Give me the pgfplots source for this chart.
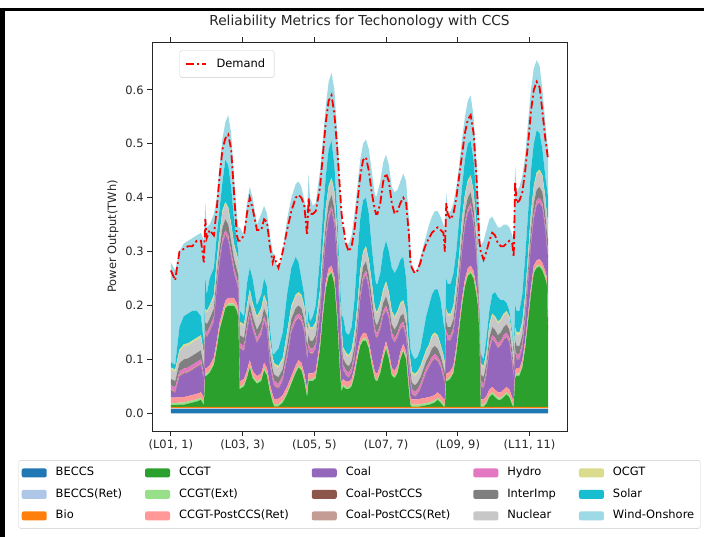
\documentclass[border=0pt]{standalone}
\usepackage{fontspec}
\setmainfont{DejaVu Sans}
\usepackage{pgfplots}
\usepackage{pgfplotstable}
\pgfplotsset{compat=1.18}
\definecolor{cBE}{HTML}{1F77B4}
\definecolor{cBR}{HTML}{AEC7E8}
\definecolor{cBio}{HTML}{FF7F0E}
\definecolor{cCC}{HTML}{2CA02C}
\definecolor{cCE}{HTML}{98DF8A}
\definecolor{cCP}{HTML}{FF9896}
\definecolor{cCoal}{HTML}{9467BD}
\definecolor{cCoP}{HTML}{8C564B}
\definecolor{cCoR}{HTML}{C49C94}
\definecolor{cHy}{HTML}{E377C2}
\definecolor{cII}{HTML}{7F7F7F}
\definecolor{cNu}{HTML}{C7C7C7}
\definecolor{cOC}{HTML}{DBDB8D}
\definecolor{cSo}{HTML}{17BECF}
\definecolor{cWi}{HTML}{9EDAE5}
\pgfplotstableread{
x BE BR Bio CC CE CP Coal CoP CoR Hy II Nu OC So Wi De
0 0.008 0.001 0.003 0.003 0.004 0.010 0.013 0.001 0.002 0.007 0.012 0.017 0.004 0.010 0.185 0.265
3 0.008 0.001 0.003 0.003 0.004 0.010 0.009 0.001 0.002 0.007 0.012 0.017 0.004 0.009 0.175 0.247
6 0.008 0.001 0.003 0.004 0.004 0.010 0.038 0.001 0.002 0.007 0.015 0.021 0.004 0.042 0.140 0.300
9 0.008 0.001 0.003 0.004 0.004 0.010 0.043 0.001 0.002 0.007 0.017 0.024 0.004 0.052 0.135 0.305
12 0.008 0.001 0.003 0.006 0.004 0.010 0.043 0.001 0.002 0.007 0.017 0.024 0.004 0.055 0.135 0.310
15 0.008 0.001 0.003 0.008 0.004 0.010 0.046 0.001 0.002 0.007 0.017 0.024 0.004 0.055 0.135 0.310
18 0.008 0.001 0.003 0.010 0.004 0.010 0.049 0.001 0.002 0.007 0.017 0.024 0.004 0.050 0.140 0.320
21 0.008 0.001 0.003 0.013 0.004 0.010 0.051 0.001 0.002 0.007 0.017 0.024 0.004 0.035 0.155 0.320
23 0.008 0.001 0.003 0.003 0.004 0.010 0.031 0.001 0.002 0.007 0.015 0.021 0.004 0.020 0.190 0.280
24 0.008 0.001 0.003 0.058 0.004 0.010 0.061 0.001 0.002 0.007 0.015 0.021 0.004 0.055 0.140 0.360
25 0.008 0.001 0.003 0.058 0.004 0.010 0.056 0.001 0.002 0.007 0.015 0.021 0.004 0.030 0.125 0.325
27 0.008 0.001 0.003 0.063 0.004 0.010 0.061 0.001 0.002 0.007 0.015 0.021 0.004 0.050 0.100 0.340
30 0.008 0.001 0.003 0.078 0.004 0.010 0.066 0.001 0.002 0.007 0.015 0.021 0.004 0.050 0.100 0.330
32 0.008 0.001 0.003 0.108 0.004 0.010 0.096 0.001 0.002 0.007 0.017 0.024 0.004 0.045 0.070 0.380
34 0.008 0.001 0.003 0.143 0.004 0.010 0.111 0.001 0.002 0.007 0.017 0.024 0.004 0.045 0.080 0.440
36 0.008 0.001 0.003 0.163 0.004 0.010 0.126 0.001 0.002 0.007 0.020 0.028 0.004 0.053 0.080 0.490
38 0.008 0.001 0.003 0.183 0.004 0.010 0.121 0.001 0.002 0.007 0.020 0.028 0.004 0.078 0.070 0.510
40 0.008 0.001 0.003 0.188 0.004 0.010 0.106 0.001 0.002 0.007 0.020 0.028 0.004 0.078 0.093 0.517
42 0.008 0.001 0.003 0.188 0.004 0.010 0.076 0.001 0.002 0.007 0.020 0.028 0.004 0.068 0.100 0.490
44 0.008 0.001 0.003 0.188 0.004 0.010 0.046 0.001 0.002 0.007 0.017 0.024 0.004 0.045 0.080 0.410
46 0.008 0.001 0.003 0.178 0.004 0.010 0.036 0.001 0.002 0.007 0.017 0.024 0.004 0.025 0.050 0.330
47 0.008 0.001 0.003 0.168 0.004 0.010 0.036 0.001 0.002 0.007 0.017 0.024 0.004 0.015 0.045 0.320
48 0.008 0.001 0.003 0.033 0.004 0.010 0.061 0.001 0.002 0.007 0.015 0.021 0.004 0.020 0.155 0.320
51 0.008 0.001 0.003 0.038 0.004 0.010 0.051 0.001 0.002 0.007 0.015 0.021 0.004 0.015 0.150 0.330
53 0.008 0.001 0.003 0.053 0.004 0.010 0.071 0.001 0.002 0.007 0.015 0.021 0.004 0.040 0.150 0.370
55 0.008 0.001 0.003 0.073 0.004 0.010 0.081 0.001 0.002 0.007 0.015 0.021 0.004 0.040 0.150 0.400
57 0.008 0.001 0.003 0.053 0.004 0.010 0.076 0.001 0.002 0.007 0.015 0.021 0.004 0.045 0.150 0.380
60 0.008 0.001 0.003 0.043 0.004 0.010 0.061 0.001 0.002 0.007 0.015 0.021 0.004 0.020 0.150 0.340
63 0.008 0.001 0.003 0.048 0.004 0.010 0.071 0.001 0.002 0.007 0.015 0.021 0.004 0.025 0.150 0.340
65 0.008 0.001 0.003 0.068 0.004 0.010 0.076 0.001 0.002 0.007 0.015 0.021 0.004 0.030 0.135 0.360
67 0.008 0.001 0.003 0.058 0.004 0.010 0.071 0.001 0.002 0.007 0.015 0.021 0.004 0.030 0.135 0.355
69 0.008 0.001 0.003 0.028 0.004 0.010 0.036 0.001 0.002 0.007 0.015 0.021 0.004 0.020 0.170 0.310
71 0.008 0.001 0.003 0.008 0.004 0.010 0.026 0.001 0.002 0.007 0.012 0.017 0.004 0.007 0.190 0.280
72 0.008 0.001 0.003 0.001 0.004 0.010 0.023 0.001 0.002 0.007 0.012 0.017 0.004 0.017 0.180 0.290
75 0.008 0.001 0.003 0.001 0.004 0.010 0.018 0.001 0.002 0.007 0.012 0.017 0.004 0.032 0.145 0.270
78 0.008 0.001 0.003 0.008 0.004 0.010 0.026 0.001 0.002 0.007 0.012 0.017 0.004 0.047 0.150 0.300
81 0.008 0.001 0.003 0.023 0.004 0.010 0.051 0.001 0.002 0.007 0.015 0.021 0.004 0.070 0.140 0.340
84 0.008 0.001 0.003 0.043 0.004 0.010 0.081 0.001 0.002 0.007 0.015 0.021 0.004 0.070 0.130 0.375
87 0.008 0.001 0.003 0.063 0.004 0.010 0.081 0.001 0.002 0.007 0.015 0.021 0.004 0.070 0.135 0.400
89 0.008 0.001 0.003 0.073 0.004 0.010 0.076 0.001 0.002 0.007 0.015 0.021 0.004 0.055 0.150 0.405
91 0.008 0.001 0.003 0.068 0.004 0.010 0.076 0.001 0.002 0.007 0.015 0.021 0.004 0.030 0.170 0.400
93 0.008 0.001 0.003 0.048 0.004 0.010 0.076 0.001 0.002 0.007 0.015 0.021 0.004 0.020 0.175 0.385
95 0.008 0.001 0.003 0.018 0.004 0.010 0.056 0.001 0.002 0.007 0.015 0.021 0.004 0.010 0.215 0.330
96 0.008 0.001 0.003 0.048 0.004 0.010 0.046 0.001 0.002 0.007 0.015 0.021 0.004 0.020 0.255 0.400
97 0.008 0.001 0.003 0.048 0.004 0.010 0.036 0.001 0.002 0.007 0.015 0.021 0.004 0.010 0.230 0.370
99 0.008 0.001 0.003 0.048 0.004 0.010 0.036 0.001 0.002 0.007 0.015 0.021 0.004 0.020 0.205 0.370
101 0.008 0.001 0.003 0.053 0.004 0.010 0.041 0.001 0.002 0.007 0.015 0.021 0.004 0.030 0.190 0.375
104 0.008 0.001 0.003 0.108 0.004 0.010 0.046 0.001 0.002 0.007 0.015 0.021 0.004 0.060 0.160 0.420
106 0.008 0.001 0.003 0.168 0.004 0.010 0.066 0.001 0.002 0.007 0.017 0.024 0.004 0.055 0.140 0.480
108 0.008 0.001 0.003 0.218 0.004 0.010 0.076 0.001 0.002 0.007 0.020 0.028 0.004 0.058 0.130 0.540
110 0.008 0.001 0.003 0.243 0.004 0.010 0.091 0.001 0.002 0.007 0.020 0.028 0.004 0.068 0.125 0.580
112 0.008 0.001 0.003 0.248 0.004 0.010 0.101 0.001 0.002 0.007 0.020 0.028 0.004 0.068 0.127 0.590
114 0.008 0.001 0.003 0.228 0.004 0.010 0.096 0.001 0.002 0.007 0.020 0.028 0.004 0.048 0.140 0.555
116 0.008 0.001 0.003 0.158 0.004 0.010 0.096 0.001 0.002 0.007 0.017 0.024 0.004 0.035 0.150 0.490
118 0.008 0.001 0.003 0.058 0.004 0.010 0.076 0.001 0.002 0.007 0.015 0.021 0.004 0.030 0.180 0.410
119 0.008 0.001 0.003 0.028 0.004 0.010 0.056 0.001 0.002 0.007 0.015 0.021 0.004 0.020 0.190 0.370
120 0.008 0.001 0.003 0.038 0.004 0.010 0.016 0.001 0.002 0.007 0.012 0.017 0.004 0.057 0.160 0.350
122 0.008 0.001 0.003 0.033 0.004 0.010 0.011 0.001 0.002 0.007 0.012 0.017 0.004 0.037 0.160 0.315
124 0.008 0.001 0.003 0.033 0.004 0.010 0.006 0.001 0.002 0.007 0.012 0.017 0.004 0.037 0.170 0.300
126 0.008 0.001 0.003 0.038 0.004 0.010 0.011 0.001 0.002 0.007 0.012 0.017 0.004 0.042 0.170 0.310
128 0.008 0.001 0.003 0.058 0.004 0.010 0.016 0.001 0.002 0.007 0.015 0.021 0.004 0.060 0.160 0.340
130 0.008 0.001 0.003 0.088 0.004 0.010 0.036 0.001 0.002 0.007 0.015 0.021 0.004 0.090 0.130 0.390
132 0.008 0.001 0.003 0.113 0.004 0.010 0.071 0.001 0.002 0.007 0.017 0.024 0.004 0.095 0.110 0.440
134 0.008 0.001 0.003 0.123 0.004 0.010 0.096 0.001 0.002 0.007 0.017 0.024 0.004 0.095 0.105 0.470
136 0.008 0.001 0.003 0.123 0.004 0.010 0.106 0.001 0.002 0.007 0.017 0.024 0.004 0.090 0.108 0.475
138 0.008 0.001 0.003 0.108 0.004 0.010 0.096 0.001 0.002 0.007 0.017 0.024 0.004 0.085 0.120 0.450
140 0.008 0.001 0.003 0.078 0.004 0.010 0.086 0.001 0.002 0.007 0.017 0.024 0.004 0.065 0.140 0.410
142 0.008 0.001 0.003 0.053 0.004 0.010 0.071 0.001 0.002 0.007 0.015 0.021 0.004 0.060 0.150 0.380
143 0.008 0.001 0.003 0.048 0.004 0.010 0.066 0.001 0.002 0.007 0.015 0.021 0.004 0.050 0.160 0.370
144 0.008 0.001 0.003 0.048 0.004 0.010 0.066 0.001 0.002 0.007 0.015 0.021 0.004 0.050 0.170 0.370
146 0.008 0.001 0.003 0.063 0.004 0.010 0.066 0.001 0.002 0.007 0.015 0.021 0.004 0.055 0.170 0.390
148 0.008 0.001 0.003 0.088 0.004 0.010 0.066 0.001 0.002 0.007 0.015 0.021 0.004 0.070 0.165 0.430
150 0.008 0.001 0.003 0.108 0.004 0.010 0.056 0.001 0.002 0.007 0.017 0.024 0.004 0.075 0.160 0.445
152 0.008 0.001 0.003 0.088 0.004 0.010 0.061 0.001 0.002 0.007 0.015 0.021 0.004 0.075 0.160 0.430
154 0.008 0.001 0.003 0.058 0.004 0.010 0.056 0.001 0.002 0.007 0.015 0.021 0.004 0.080 0.150 0.390
156 0.008 0.001 0.003 0.053 0.004 0.010 0.051 0.001 0.002 0.007 0.015 0.021 0.004 0.080 0.150 0.370
158 0.008 0.001 0.003 0.063 0.004 0.010 0.051 0.001 0.002 0.007 0.015 0.021 0.004 0.080 0.145 0.375
160 0.008 0.001 0.003 0.088 0.004 0.010 0.041 0.001 0.002 0.007 0.015 0.021 0.004 0.080 0.145 0.390
162 0.008 0.001 0.003 0.103 0.004 0.010 0.031 0.001 0.002 0.007 0.015 0.021 0.004 0.080 0.155 0.400
164 0.008 0.001 0.003 0.088 0.004 0.010 0.026 0.001 0.002 0.007 0.015 0.021 0.004 0.060 0.180 0.390
166 0.008 0.001 0.003 0.028 0.004 0.010 0.026 0.001 0.002 0.007 0.012 0.017 0.004 0.037 0.200 0.330
167 0.008 0.001 0.003 0.003 0.004 0.010 0.026 0.001 0.002 0.007 0.012 0.017 0.004 0.022 0.190 0.280
168 0.008 0.001 0.003 0.000 0.004 0.010 0.009 0.001 0.002 0.007 0.012 0.017 0.004 0.032 0.160 0.270
170 0.008 0.001 0.003 0.000 0.004 0.010 0.004 0.001 0.002 0.007 0.012 0.017 0.004 0.027 0.160 0.260
172 0.008 0.001 0.003 0.000 0.004 0.010 0.009 0.001 0.002 0.007 0.012 0.017 0.004 0.027 0.165 0.265
174 0.008 0.001 0.003 0.001 0.004 0.010 0.018 0.001 0.002 0.007 0.012 0.017 0.004 0.032 0.170 0.280
176 0.008 0.001 0.003 0.002 0.004 0.010 0.032 0.001 0.002 0.007 0.012 0.017 0.004 0.047 0.160 0.300
178 0.008 0.001 0.003 0.003 0.004 0.010 0.046 0.001 0.002 0.007 0.012 0.017 0.004 0.062 0.150 0.315
180 0.008 0.001 0.003 0.004 0.004 0.010 0.055 0.001 0.002 0.007 0.012 0.017 0.004 0.072 0.150 0.325
182 0.008 0.001 0.003 0.006 0.004 0.010 0.063 0.001 0.002 0.007 0.015 0.021 0.004 0.075 0.145 0.335
184 0.008 0.001 0.003 0.008 0.004 0.010 0.066 0.001 0.002 0.007 0.015 0.021 0.004 0.080 0.145 0.340
186 0.008 0.001 0.003 0.013 0.004 0.010 0.056 0.001 0.002 0.007 0.015 0.021 0.004 0.085 0.145 0.345
188 0.008 0.001 0.003 0.008 0.004 0.010 0.051 0.001 0.002 0.007 0.012 0.017 0.004 0.082 0.155 0.340
190 0.008 0.001 0.003 0.001 0.004 0.010 0.038 0.001 0.002 0.007 0.012 0.017 0.004 0.062 0.180 0.335
191 0.008 0.001 0.003 0.000 0.004 0.010 0.024 0.001 0.002 0.007 0.012 0.017 0.004 0.057 0.190 0.300
192 0.008 0.001 0.003 0.048 0.004 0.010 0.071 0.001 0.002 0.007 0.015 0.021 0.004 0.055 0.160 0.390
193 0.008 0.001 0.003 0.048 0.004 0.010 0.061 0.001 0.002 0.007 0.015 0.021 0.004 0.055 0.130 0.370
195 0.008 0.001 0.003 0.053 0.004 0.010 0.056 0.001 0.002 0.007 0.015 0.021 0.004 0.055 0.135 0.360
197 0.008 0.001 0.003 0.063 0.004 0.010 0.061 0.001 0.002 0.007 0.015 0.021 0.004 0.060 0.130 0.370
199 0.008 0.001 0.003 0.098 0.004 0.010 0.066 0.001 0.002 0.007 0.017 0.024 0.004 0.055 0.120 0.400
201 0.008 0.001 0.003 0.143 0.004 0.010 0.071 0.001 0.002 0.007 0.017 0.024 0.004 0.065 0.100 0.440
203 0.008 0.001 0.003 0.188 0.004 0.010 0.086 0.001 0.002 0.007 0.020 0.028 0.004 0.058 0.090 0.480
205 0.008 0.001 0.003 0.223 0.004 0.010 0.096 0.001 0.002 0.007 0.020 0.028 0.004 0.063 0.080 0.520
207 0.008 0.001 0.003 0.243 0.004 0.010 0.101 0.001 0.002 0.007 0.020 0.028 0.004 0.068 0.080 0.545
209 0.008 0.001 0.003 0.248 0.004 0.010 0.106 0.001 0.002 0.007 0.020 0.028 0.004 0.063 0.085 0.553
211 0.008 0.001 0.003 0.238 0.004 0.010 0.086 0.001 0.002 0.007 0.020 0.028 0.004 0.058 0.080 0.520
213 0.008 0.001 0.003 0.208 0.004 0.010 0.056 0.001 0.002 0.007 0.020 0.028 0.004 0.048 0.070 0.440
214 0.008 0.001 0.003 0.188 0.004 0.010 0.016 0.001 0.002 0.007 0.017 0.024 0.004 0.015 0.120 0.380
215 0.008 0.001 0.003 0.138 0.004 0.010 0.006 0.001 0.002 0.007 0.015 0.021 0.004 0.010 0.140 0.320
216 0.008 0.001 0.003 0.000 0.004 0.010 0.024 0.001 0.002 0.007 0.012 0.017 0.004 0.017 0.200 0.300
218 0.008 0.001 0.003 0.000 0.004 0.010 0.019 0.001 0.002 0.007 0.012 0.017 0.004 0.012 0.220 0.285
220 0.008 0.001 0.003 0.006 0.004 0.010 0.038 0.001 0.002 0.007 0.012 0.017 0.004 0.027 0.200 0.300
222 0.008 0.001 0.003 0.018 0.004 0.010 0.071 0.001 0.002 0.007 0.015 0.021 0.004 0.025 0.170 0.320
224 0.008 0.001 0.003 0.023 0.004 0.010 0.086 0.001 0.002 0.007 0.015 0.021 0.004 0.035 0.145 0.335
226 0.008 0.001 0.003 0.018 0.004 0.010 0.086 0.001 0.002 0.007 0.015 0.021 0.004 0.045 0.130 0.330
228 0.008 0.001 0.003 0.013 0.004 0.010 0.081 0.001 0.002 0.007 0.015 0.021 0.004 0.045 0.130 0.315
230 0.008 0.001 0.003 0.013 0.004 0.010 0.086 0.001 0.002 0.007 0.015 0.021 0.004 0.035 0.135 0.310
232 0.008 0.001 0.003 0.018 0.004 0.010 0.091 0.001 0.002 0.007 0.015 0.021 0.004 0.025 0.140 0.310
234 0.008 0.001 0.003 0.023 0.004 0.010 0.091 0.001 0.002 0.007 0.015 0.021 0.004 0.015 0.145 0.315
236 0.008 0.001 0.003 0.018 0.004 0.010 0.086 0.001 0.002 0.007 0.015 0.021 0.004 0.010 0.155 0.320
238 0.008 0.001 0.003 0.003 0.004 0.010 0.061 0.001 0.002 0.007 0.015 0.021 0.004 0.010 0.180 0.315
239 0.008 0.001 0.003 0.000 0.004 0.010 0.034 0.001 0.002 0.007 0.012 0.017 0.004 0.017 0.200 0.290
240 0.008 0.001 0.003 0.053 0.004 0.010 0.031 0.001 0.002 0.007 0.015 0.021 0.004 0.040 0.260 0.430
241 0.008 0.001 0.003 0.058 0.004 0.010 0.016 0.001 0.002 0.007 0.015 0.021 0.004 0.040 0.220 0.390
243 0.008 0.001 0.003 0.058 0.004 0.010 0.016 0.001 0.002 0.007 0.015 0.021 0.004 0.040 0.230 0.395
245 0.008 0.001 0.003 0.073 0.004 0.010 0.021 0.001 0.002 0.007 0.015 0.021 0.004 0.050 0.220 0.410
247 0.008 0.001 0.003 0.108 0.004 0.010 0.036 0.001 0.002 0.007 0.015 0.021 0.004 0.070 0.190 0.450
249 0.008 0.001 0.003 0.158 0.004 0.010 0.056 0.001 0.002 0.007 0.017 0.024 0.004 0.075 0.170 0.500
251 0.008 0.001 0.003 0.208 0.004 0.010 0.076 0.001 0.002 0.007 0.020 0.028 0.004 0.078 0.150 0.560
253 0.008 0.001 0.003 0.248 0.004 0.010 0.086 0.001 0.002 0.007 0.020 0.028 0.004 0.078 0.140 0.600
255 0.008 0.001 0.003 0.258 0.004 0.010 0.101 0.001 0.002 0.007 0.020 0.028 0.004 0.078 0.130 0.615
257 0.008 0.001 0.003 0.260 0.004 0.010 0.104 0.001 0.002 0.007 0.020 0.028 0.004 0.068 0.125 0.605
259 0.008 0.001 0.003 0.253 0.004 0.010 0.101 0.001 0.002 0.007 0.020 0.028 0.004 0.048 0.110 0.560
261 0.008 0.001 0.003 0.238 0.004 0.010 0.076 0.001 0.002 0.007 0.020 0.028 0.004 0.038 0.100 0.510
262 0.008 0.001 0.003 0.228 0.004 0.010 0.056 0.001 0.002 0.007 0.020 0.028 0.004 0.048 0.090 0.490
263 0.008 0.001 0.003 0.143 0.004 0.010 0.121 0.001 0.002 0.007 0.020 0.028 0.004 0.048 0.090 0.470
}\data
\newcommand{\fs}{\fontsize{11.5}{13}\selectfont}
\pgfplotsset{base/.style={scale only axis, width=415bp, height=389bp, at={(152bp,-431bp)}, anchor=south west, xmin=-13.15, xmax=276.15, ymin=-0.0328, ymax=0.6888}}
\begin{document}
\begin{tikzpicture}
\useasboundingbox (0,0) rectangle (704bp,-537bp);
\fill[white] (0,0) rectangle (704bp,-537bp);
\fill[black] (0bp,-7.5bp) rectangle (704bp,-11bp);
\fill[black] (0bp,-7.5bp) rectangle (5bp,-537bp);
\begin{axis}[base, stack plots=y,
  axis line style={black!85, line width=0.8bp},
  tick style={black!85, line width=0.8bp},
  tick align=outside, major tick length=4.9bp,
  xtick pos=both, ytick pos=left,
  xtick={0,50,100,150,200,250},
  xticklabels={{(L01, 1)},{(L03, 3)},{(L05, 5)},{(L07, 7)},{(L09, 9)},{(L11, 11)}},
  ytick={0,0.1,0.2,0.3,0.4,0.5,0.6},
  yticklabels={0.0,0.1,0.2,0.3,0.4,0.5,0.6},
  ticklabel style={font=\fs, text=black!85},
  title={Reliability Metrics for Techonology with CCS},
  title style={at={(axis description cs:0.5,1.036)}, anchor=center, font=\fontsize{13.8}{16}\selectfont, text=black!85},
  ylabel={Power Output(TWh)},
  ylabel style={at={(axis description cs:-0.094,0.5)}, anchor=center, font=\fs, text=black!85},
]
\addplot[fill=cBE, draw=none] table[x=x, y=BE] {\data} \closedcycle;
\addplot[fill=cBR, draw=none] table[x=x, y=BR] {\data} \closedcycle;
\addplot[fill=cBio, draw=none] table[x=x, y=Bio] {\data} \closedcycle;
\addplot[fill=cCC, draw=none] table[x=x, y=CC] {\data} \closedcycle;
\addplot[fill=cCE, draw=none] table[x=x, y=CE] {\data} \closedcycle;
\addplot[fill=cCP, draw=none] table[x=x, y=CP] {\data} \closedcycle;
\addplot[fill=cCoal, draw=none] table[x=x, y=Coal] {\data} \closedcycle;
\addplot[fill=cCoP, draw=none] table[x=x, y=CoP] {\data} \closedcycle;
\addplot[fill=cCoR, draw=none] table[x=x, y=CoR] {\data} \closedcycle;
\addplot[fill=cHy, draw=none] table[x=x, y=Hy] {\data} \closedcycle;
\addplot[fill=cII, draw=none] table[x=x, y=II] {\data} \closedcycle;
\addplot[fill=cNu, draw=none] table[x=x, y=Nu] {\data} \closedcycle;
\addplot[fill=cOC, draw=none] table[x=x, y=OC] {\data} \closedcycle;
\addplot[fill=cSo, draw=none] table[x=x, y=So] {\data} \closedcycle;
\addplot[fill=cWi, draw=none] table[x=x, y=Wi] {\data} \closedcycle;
\end{axis}
\begin{axis}[base, hide axis,
  legend image code/.code={\draw[#1] (0bp,0bp) -- (20bp,0bp);},
  legend style={at={(0.0665,0.978)}, anchor=north west, draw=black!20, fill=white, rounded corners=2bp, inner xsep=5bp, inner ysep=7.8bp, font=\fs, nodes={inner xsep=4bp, inner ysep=0bp, text height=8.5bp, text depth=2.5bp}, /tikz/every odd column/.append style={column sep=6bp}}]
\addplot[color=red, line width=1.8bp, dash pattern=on 8bp off 3bp on 2bp off 3bp] table[x=x, y=De] {\data};
\addlegendentry{Demand}
\end{axis}
\begin{axis}[base, hide axis, legend columns=5, legend cell align=left,
  legend image code/.code={\fill[#1] (0bp,-4.5bp) rectangle (25bp,4.5bp);},
  legend style={at={(0.5,-0.163)}, anchor=center, draw=black!20, fill=white, rounded corners=2bp, inner xsep=3bp, inner ysep=7bp, font=\fs, nodes={inner xsep=3bp, inner ysep=0bp, text height=8.5bp, text depth=2.5bp}, row sep=10.5bp, /tikz/every odd column/.append style={column sep=6bp}, /tikz/every even column/.append style={column sep=20bp}}]
\addlegendimage{fill=cBE, draw=none}\addlegendentry{BECCS}
\addlegendimage{fill=cCC, draw=none}\addlegendentry{CCGT}
\addlegendimage{fill=cCoal, draw=none}\addlegendentry{Coal}
\addlegendimage{fill=cHy, draw=none}\addlegendentry{Hydro}
\addlegendimage{fill=cOC, draw=none}\addlegendentry{OCGT}
\addlegendimage{fill=cBR, draw=none}\addlegendentry{BECCS(Ret)}
\addlegendimage{fill=cCE, draw=none}\addlegendentry{CCGT(Ext)}
\addlegendimage{fill=cCoP, draw=none}\addlegendentry{Coal-PostCCS}
\addlegendimage{fill=cII, draw=none}\addlegendentry{InterImp}
\addlegendimage{fill=cSo, draw=none}\addlegendentry{Solar}
\addlegendimage{fill=cBio, draw=none}\addlegendentry{Bio}
\addlegendimage{fill=cCP, draw=none}\addlegendentry{CCGT-PostCCS(Ret)}
\addlegendimage{fill=cCoR, draw=none}\addlegendentry{Coal-PostCCS(Ret)}
\addlegendimage{fill=cNu, draw=none}\addlegendentry{Nuclear}
\addlegendimage{fill=cWi, draw=none}\addlegendentry{Wind-Onshore}
\end{axis}
\end{tikzpicture}
\end{document}
